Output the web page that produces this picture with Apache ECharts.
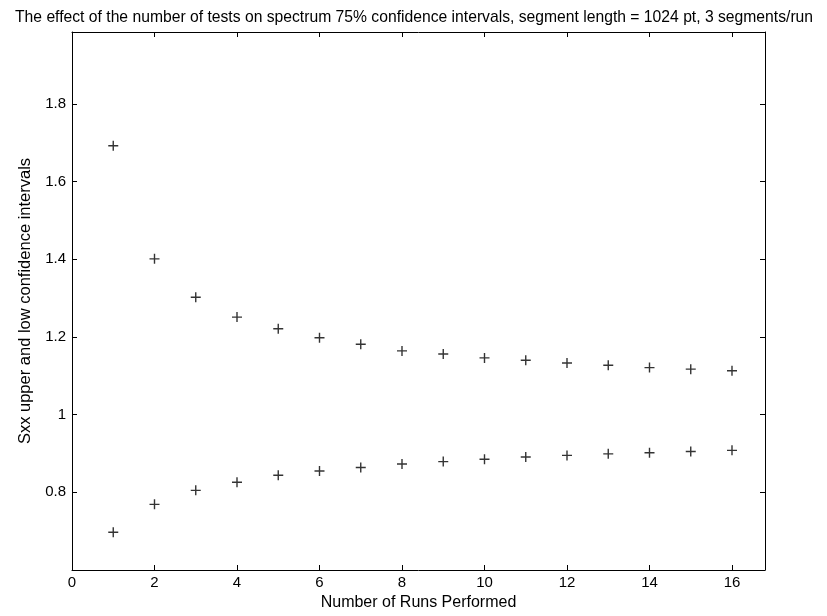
<!DOCTYPE html>
<html>
<head>
<meta charset="utf-8">
<script src="https://cdn.jsdelivr.net/npm/echarts@6/dist/echarts.min.js"></script>
<style>
html,body{margin:0;padding:0;background:#fff;}
#main{width:827px;height:616px;}
</style>
</head>
<body>
<div id="main"></div>
<script>
const runs = [1, 2, 3, 4, 5, 6, 7, 8, 9, 10, 11, 12, 13, 14, 15, 16];
const upper = [1.692, 1.401, 1.302, 1.251, 1.221, 1.198, 1.181, 1.164, 1.156, 1.146, 1.140, 1.133, 1.127, 1.121, 1.117, 1.113];
const lower = [0.697, 0.769, 0.805, 0.826, 0.844, 0.855, 0.864, 0.873, 0.879, 0.885, 0.891, 0.895, 0.899, 0.902, 0.905, 0.908];
const xTickLabels = ['0', '2', '4', '6', '8', '10', '12', '14', '16'];
const yTickLabels = ['0.8', '1', '1.2', '1.4', '1.6', '1.8'];
const titleText = 'The effect of the number of tests on spectrum 75% confidence intervals, segment length = 1024 pt, 3 segments/run';
const xName = 'Number of Runs Performed';
const yName = 'Sxx upper and low confidence intervals';

const FONT = '"Liberation Sans", Arial, sans-serif';
const plus = 'path://M4.3,0H5.7V4.3H10V5.7H5.7V10H4.3V5.7H0V4.3H4.3Z';

function fmtLabel(list) {
  return function (v) {
    for (const s of list) {
      if (Math.abs(parseFloat(s) - v) < 1e-6) return s;
    }
    return '';
  };
}

const axisCommon = {
  axisLine: { show: true, onZero: false, lineStyle: { color: '#000', width: 1 } },
  axisTick: { show: true, inside: true, length: 5, lineStyle: { color: '#000', width: 1 } },
  splitLine: { show: false }
};

const chart = echarts.init(document.getElementById('main'), null, { renderer: 'canvas' });
chart.setOption({
  backgroundColor: '#fff',
  animation: false,
  title: {
    text: titleText,
    left: 10,
    top: 5,
    textStyle: { fontFamily: FONT, fontSize: 15.7, fontWeight: 'normal', color: '#000' }
  },
  grid: { left: 72, top: 32, right: 62, bottom: 44, containLabel: false },
  xAxis: [
    Object.assign({}, axisCommon, {
      type: 'value', position: 'bottom', min: 0, max: 16.8, interval: 2,
      name: xName, nameLocation: 'middle', nameGap: 25,
      nameTextStyle: { fontFamily: FONT, fontSize: 16, color: '#000' },
      axisLabel: { show: true, margin: 5, color: '#000', fontFamily: FONT, fontSize: 15, formatter: fmtLabel(xTickLabels) }
    }),
    Object.assign({}, axisCommon, {
      type: 'value', position: 'top', min: 0, max: 16.8, interval: 2,
      axisLabel: { show: false }
    })
  ],
  yAxis: [
    Object.assign({}, axisCommon, {
      type: 'value', position: 'left', min: 0.6, max: 1.985, interval: 0.2,
      name: yName, nameLocation: 'middle', nameGap: 34,
      nameTextStyle: { fontFamily: FONT, fontSize: 16.5, color: '#000' },
      axisLabel: { show: true, margin: 6, color: '#000', fontFamily: FONT, fontSize: 15, formatter: fmtLabel(yTickLabels) }
    }),
    Object.assign({}, axisCommon, {
      type: 'value', position: 'right', min: 0.6, max: 1.985, interval: 0.2,
      axisLabel: { show: false }
    })
  ],
  series: [
    {
      type: 'scatter', name: 'upper', xAxisIndex: 0, yAxisIndex: 0,
      data: runs.map((r, i) => [r, upper[i]]),
      symbol: plus, symbolSize: 10,
      itemStyle: { color: '#000' }
    },
    {
      type: 'scatter', name: 'lower', xAxisIndex: 0, yAxisIndex: 0,
      data: runs.map((r, i) => [r, lower[i]]),
      symbol: plus, symbolSize: 10,
      itemStyle: { color: '#000' }
    }
  ]
});
</script>
</body>
</html>
